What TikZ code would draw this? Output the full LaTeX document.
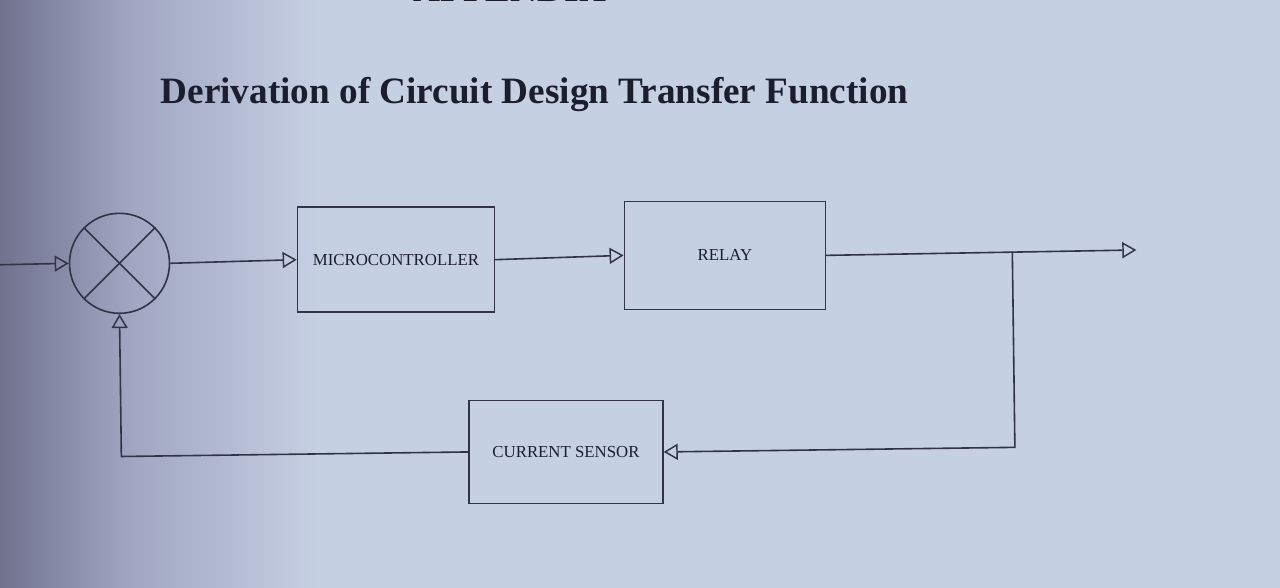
\documentclass[tikz,border=0pt]{standalone}
\usepackage{fontspec}
\setmainfont{Liberation Serif}
\usetikzlibrary{arrows.meta}
\definecolor{page}{RGB}{198,208,227}
\definecolor{pagemid}{RGB}{160,166,194}
\definecolor{pagedark}{RGB}{112,114,142}
\definecolor{ink}{RGB}{48,52,70}
\definecolor{txt}{RGB}{28,30,46}
\tikzset{
  block/.style={draw=ink, line width=1.2pt, inner sep=0pt, font=\fontsize{12.6}{14}\selectfont, text=txt},
  sumjunction/.style={draw=ink, line width=1.2pt, circle, inner sep=0pt, minimum size=75pt},
  conn/.style={draw=ink, line width=1.2pt},
  arr/.style={conn, -{Triangle[open, length=10.5pt, width=12pt, line width=1.1pt]}},
}
\begin{document}
\begin{tikzpicture}[x=0.75pt, y=-0.75pt]
\useasboundingbox (0,0) rectangle (1280,588);
\clip (0,0) rectangle (1280,588);
\fill[page] (0,0) rectangle (1280,588);
\shade[left color=pagedark, right color=pagemid] (0,0) rectangle (130,588);
\shade[left color=pagemid, right color=page] (130,0) rectangle (320,588);
\begin{scope}[rotate around={0.75:(640,300)}]
  \node[anchor=base west, inner sep=0pt, text=txt, font=\bfseries\fontsize{28}{32}\selectfont] (appx) at (417,-1) {APPENDIX};
  \node[anchor=base west, inner sep=0pt, text=txt, font=\bfseries\fontsize{27.9}{32}\selectfont] (title) at (163,97) {Derivation of Circuit Design Transfer Function};

  \node[sumjunction] (sum) at (120,256.5) {};
  \draw[conn] (sum.45) -- (sum.225);
  \draw[conn] (sum.135) -- (sum.315);

  \node[block, minimum width=147.75pt, minimum height=78.75pt] (mc) at (396.5,256.5) {MICROCONTROLLER};
  \node[block, minimum width=150.75pt, minimum height=81pt] (relay) at (725.5,256.5) {RELAY};
  \node[block, minimum width=145.5pt, minimum height=77.25pt] (cs) at (564,451) {CURRENT SENSOR};

  \coordinate (in) at (-10,256.5);
  \coordinate (out) at (1137,256.5);
  \coordinate (br) at (1013,256.5);

  \draw[arr] (in) -- (sum.west);
  \draw[arr] (sum.east) -- (mc.west);
  \draw[arr] (mc.east) -- (relay.west);
  \draw[arr] (relay.east) -- (out);
  \draw[arr] (br) |- (cs.east);
  \draw[arr] (cs.west) -| (sum.south);
\end{scope}
\end{tikzpicture}
\end{document}
